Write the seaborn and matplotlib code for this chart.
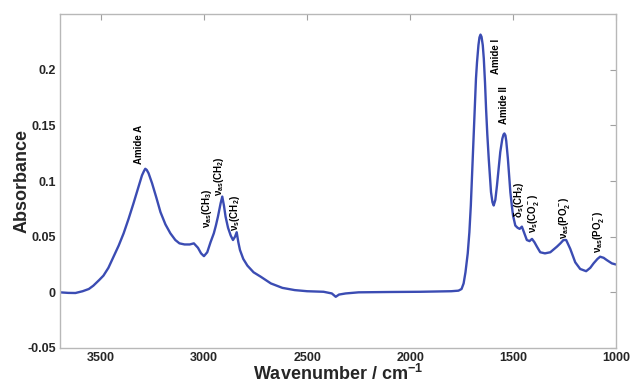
import numpy as np
import matplotlib
matplotlib.use("Agg")
import matplotlib.pyplot as plt
import seaborn as sns
import pandas as pd

# FTIR spectrum (wavenumber in cm-1, absorbance)
wavenumber = [3700, 3660, 3625, 3590, 3560, 3538, 3510, 3489, 3465, 3440,
              3415, 3391, 3367, 3343, 3320, 3302, 3292, 3286, 3279, 3270, 3253, 3232,
              3212, 3188, 3164, 3140, 3120, 3095, 3070, 3050, 3030, 3015,
              3001, 2985, 2969, 2953, 2943, 2933, 2920, 2912, 2904, 2896,
              2884, 2871, 2860, 2850, 2842, 2834, 2826, 2810, 2790, 2760,
              2725, 2676, 2620, 2560, 2500, 2420, 2380, 2361, 2345, 2313,
              2250, 2100, 1950, 1800, 1765, 1750, 1740, 1731, 1720, 1712,
              1705, 1699, 1692, 1686, 1680, 1675, 1668, 1663, 1658, 1653, 1647, 1642,
              1636, 1631, 1625, 1618, 1607, 1600, 1594, 1586, 1578, 1570,
              1562, 1552, 1546, 1542, 1537, 1533, 1525, 1519, 1513, 1506, 1500, 1489,
              1478, 1468, 1457, 1445, 1433, 1420, 1408, 1396, 1384, 1368,
              1345, 1319, 1300, 1287, 1270, 1255, 1242, 1232, 1222, 1210,
              1198, 1174, 1145, 1125, 1109, 1090, 1077, 1060, 1045, 1020,
              1000]
absorbance = [0.000, -0.0005, -0.0006, 0.001, 0.003, 0.006, 0.011, 0.015, 0.022, 0.032,
              0.042, 0.053, 0.066, 0.080, 0.094, 0.105, 0.109, 0.111, 0.110, 0.107, 0.098, 0.085,
              0.072, 0.061, 0.053, 0.047, 0.044, 0.043, 0.043, 0.044, 0.040, 0.035,
              0.0325, 0.036, 0.045, 0.053, 0.060, 0.068, 0.080, 0.086, 0.078, 0.068,
              0.058, 0.051, 0.047, 0.050, 0.054, 0.045, 0.038, 0.030, 0.024, 0.018,
              0.014, 0.008, 0.004, 0.002, 0.001, 0.0005, -0.001, -0.004, -0.002, -0.001,
              0.000, 0.0003, 0.0005, 0.001, 0.0015, 0.003, 0.008, 0.018, 0.035, 0.054,
              0.078, 0.105, 0.135, 0.1655, 0.192, 0.2065, 0.222, 0.2290, 0.2315, 0.2295, 0.222, 0.210,
              0.188, 0.165, 0.142, 0.120, 0.090, 0.081, 0.078, 0.083, 0.096, 0.111,
              0.126, 0.138, 0.1418, 0.1427, 0.1410, 0.136, 0.120, 0.105, 0.090, 0.078, 0.069, 0.060,
              0.058, 0.057, 0.059, 0.053, 0.047, 0.046, 0.048, 0.045, 0.041, 0.036,
              0.035, 0.036, 0.039, 0.041, 0.044, 0.047, 0.047, 0.043, 0.039, 0.033,
              0.027, 0.021, 0.019, 0.022, 0.026, 0.030, 0.032, 0.031, 0.029, 0.026,
              0.025]

# band assignments: label, wavenumber, absorbance at the bottom of the text
band_labels = ["Amide A", r"ν$_{as}$(CH$_3$)", r"ν$_{as}$(CH$_2$)", r"ν$_s$(CH$_2$)",
               "Amide I", "Amide II", r"δ$_s$(CH$_2$)", r"ν$_s$(CO$_2^-$)",
               r"ν$_{as}$(PO$_2^-$)", r"ν$_{as}$(PO$_2^-$)"]
band_wn = [3318, 2984, 2926, 2849, 1584, 1542, 1473, 1400, 1249, 1085]
band_y = [0.115, 0.058, 0.0866, 0.0554, 0.196, 0.151, 0.067, 0.053, 0.048, 0.035]

x_ticks = [3500, 3000, 2500, 2000, 1500, 1000]
y_ticks = [-0.05, 0, 0.05, 0.1, 0.15, 0.2]

sns.set_style("white")
plt.rcParams["font.family"] = ["Liberation Sans", "DejaVu Sans"]
plt.rcParams["font.weight"] = "bold"
plt.rcParams["mathtext.fontset"] = "custom"
plt.rcParams["mathtext.rm"] = "Liberation Sans:bold"
plt.rcParams["mathtext.it"] = "Liberation Sans:bold"
plt.rcParams["mathtext.bf"] = "Liberation Sans:bold"
plt.rcParams["mathtext.default"] = "bf"

df = pd.DataFrame({"wn": wavenumber, "A": absorbance})

fig = plt.figure(figsize=(6.3, 3.87), dpi=100)
ax = fig.add_axes([60 / 630, 1 - 348 / 387, 556 / 630, 334 / 387])

sns.lineplot(data=df, x="wn", y="A", sort=False, color="#3b4cb3", linewidth=1.7, ax=ax)

for lab, xw, yb in zip(band_labels, band_wn, band_y):
    ax.text(xw, yb, lab, rotation=90, ha="center", va="bottom",
            fontsize=7, fontweight="bold", color="black")

ax.set_xlim(3700, 1000)
ax.set_ylim(-0.05, 0.25)
ax.set_xticks(x_ticks)
ax.set_yticks(y_ticks)
ax.set_yticklabels(["-0.05", "0", "0.05", "0.1", "0.15", "0.2"])
ax.tick_params(direction="in", length=4, width=0.8, color="#a0a0a0",
               top=True, right=True, labelsize=9, pad=3)
for lbl in ax.get_xticklabels() + ax.get_yticklabels():
    lbl.set_fontweight("bold")
for sp in ax.spines.values():
    sp.set_color("#b8b8b8")
    sp.set_linewidth(1.0)

ax.set_xlabel(r"Wavenumber / cm$^{-1}$", fontsize=13, fontweight="bold", labelpad=0)
ax.set_ylabel("Absorbance", fontsize=13, fontweight="bold", labelpad=-2.5)

fig.savefig("out.png", dpi=100)
